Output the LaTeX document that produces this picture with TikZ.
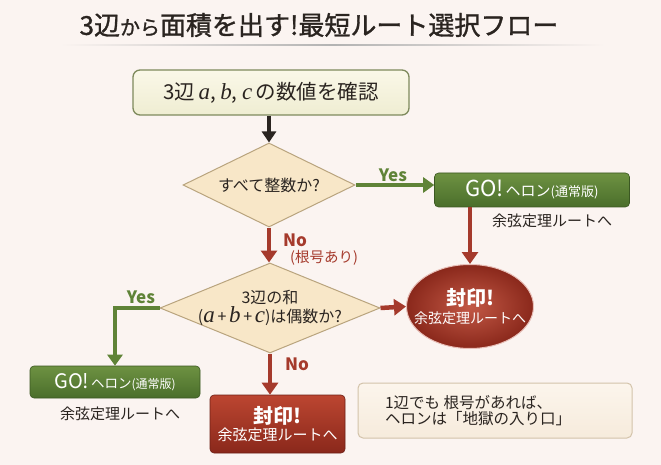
\documentclass[tikz,border=0pt]{standalone}
\usepackage{fontspec}
\setmainfont{Noto Sans CJK JP}
\newfontfamily\titlefont[FakeBold=1.2]{Noto Sans CJK JP}
\newfontfamily\varfont{Liberation Serif}
\usetikzlibrary{shapes.geometric,arrows.meta}
\definecolor{bgcream}{HTML}{FBF4F1}
\definecolor{inkdark}{HTML}{2A2420}
\definecolor{oliveline}{HTML}{7E8A5C}
\definecolor{startfillA}{HTML}{FAF8E8}
\definecolor{startfillB}{HTML}{EFEDD2}
\definecolor{askfill}{HTML}{F8E7C8}
\definecolor{askline}{HTML}{B9A47E}
\definecolor{goA}{HTML}{6E9242}
\definecolor{goB}{HTML}{4A6E2B}
\definecolor{greenarr}{HTML}{5F8337}
\definecolor{redarr}{HTML}{A53A2C}
\definecolor{sealA}{HTML}{BC4631}
\definecolor{sealB}{HTML}{8A281B}
\definecolor{noteA}{HTML}{FCF5EC}
\definecolor{noteB}{HTML}{F6EBDC}
\definecolor{noteline}{HTML}{D3C3AA}
\tikzset{
  startbox/.style={draw=oliveline, line width=1.3pt, rounded corners=7pt,
    top color=startfillA, bottom color=startfillB, inner sep=0pt,
    text=inkdark, font=\fontsize{20.5}{22}\selectfont},
  askbox/.style={diamond, draw=askline, line width=1pt, fill=askfill, inner sep=0pt},
  asktext/.style={text=inkdark, align=center, inner sep=0pt},
  gobox/.style={rounded corners=4pt, top color=goA, bottom color=goB,
    draw=goB!80!black, line width=0.6pt, text=white, inner sep=0pt},
  sealbox/.style={rounded corners=4pt, top color=sealA, bottom color=sealB,
    draw=sealB!80!black, line width=0.6pt, text=white, inner sep=0pt, align=center},
  sealoval/.style={ellipse, inner color=sealA!90!white, outer color=sealB,
    draw=sealA!35!white, line width=1pt, inner sep=0pt},
  sealtext/.style={text=white, align=center, inner sep=0pt},
  notebox/.style={rounded corners=5pt, top color=noteA, bottom color=noteB,
    draw=noteline, line width=1pt, inner sep=0pt},
  sidetext/.style={text=inkdark, font=\fontsize{15}{17}\selectfont},
  blackarrow/.style={draw=inkdark, line width=3.5pt, -{Triangle[length=11pt,width=14pt]}},
  greenarrow/.style={draw=greenarr, line width=4pt, -{Triangle[length=11pt,width=15pt]}},
  redarrow/.style={draw=redarr, line width=4.5pt, -{Triangle[length=12pt,width=16pt]}},
  yeslabel/.style={text=greenarr, font=\fontsize{17}{18}\selectfont\bfseries},
  nolabel/.style={text=redarr, font=\fontsize{17}{18}\selectfont\bfseries},
}
\newcommand{\golabel}{{\fontsize{22}{24}\selectfont GO!}\,{\fontsize{15}{17}\selectfont ヘロン}{\fontsize{13}{15}\selectfont (通常版)}}
\newcommand{\smallgolabel}{{\fontsize{20}{22}\selectfont GO!}\,{\fontsize{13.5}{15}\selectfont ヘロン}{\fontsize{12}{14}\selectfont (通常版)}}
\newcommand{\var}[1]{{\varfont\itshape\fontsize{23}{24}\selectfont #1}}
\begin{document}
\begin{tikzpicture}[x=1pt,y=-1pt]
\useasboundingbox[fill=bgcream] (0,0) rectangle (661,465);

% title and rule
\node (title) at (319,25) [text=inkdark] {\titlefont\fontsize{26}{28}\selectfont 3辺{\fontsize{20}{22}\selectfont から}面積を出す!最短ルート選択フロー};
\shade[left color=bgcream, right color=bgcream, middle color=black!30] (60,44.3) rectangle (605,45.6);

% nodes
\node (check) at (271,92.5) [startbox, minimum width=276, minimum height=45] {3辺\,\var{a}, \var{b}, \var{c}\,の数値を確認};
\node (int) at (269,185) [askbox, minimum width=172, minimum height=84] {};
\node (intq) at (int) [asktext] {\fontsize{16}{18}\selectfont すべて整数か?};
\node (heron1) at (532,190) [gobox, minimum width=195, minimum height=34] {\golabel};
\node (route1) at (552,221) [sidetext] {余弦定理ルートへ};
\node (seal1) at (470,306.5) [sealoval, minimum width=127, minimum height=84] {};
\node (seal1q) at (seal1) [sealtext] {{\fontsize{20}{22}\selectfont\bfseries 封印!}\\[3pt]{\fontsize{14}{15}\selectfont 余弦定理ルートへ}};
\node (even) at (270,308) [askbox, minimum width=220, minimum height=90] {};
\node (evenq) at (even) [asktext] {\fontsize{16}{22}\selectfont 3辺の和\\\fontsize{16}{22}\selectfont (\var{a}\,+\,\var{b}\,+\,\var{c})は偶数か?};
\node (heron2) at (115,382) [gobox, minimum width=170, minimum height=32] {\smallgolabel};
\node (route2) at (120,414) [sidetext] {余弦定理ルートへ};
\node (seal2) at (277.5,424) [sealbox, minimum width=135, minimum height=58] {{\fontsize{20}{22}\selectfont\bfseries 封印!}\\[2pt]{\fontsize{15}{17}\selectfont 余弦定理ルートへ}};
\node (tip) at (495,410.5) [notebox, minimum width=274, minimum height=55] {};
\node (tiptext) at (tip.west) [anchor=west, xshift=24pt, align=left, text=inkdark] {\fontsize{15.5}{23}\selectfont 1辺でも 根号があれば、\\\fontsize{15.5}{23}\selectfont ヘロンは「地獄の入り口」};

% connectors
\draw[blackarrow] (check.south -| int) -- (int.north);
\draw[greenarrow] (int.east) -- (int.east -| heron1.west);
\node (yes1) at (393,175) [yeslabel] {Yes};
\draw[redarrow] (seal1 |- heron1.south) -- (seal1.north);
\draw[redarrow] (int.south) -- (int.south |- even.north);
\node (no1) at (295,240) [nolabel] {No};
\node (no1note) at (324,258) [text=redarr, font=\fontsize{14.5}{16}\selectfont] {(根号あり)};
\draw[redarrow] (even.east) -- (seal1.west);
\draw[greenarrow] (even.west) -| (heron2.north);
\node (yes2) at (141,297) [yeslabel] {Yes};
\draw[redarrow] (even.south) -- (even.south |- seal2.north);
\node (no2) at (297,364) [nolabel] {No};
\end{tikzpicture}
\end{document}
